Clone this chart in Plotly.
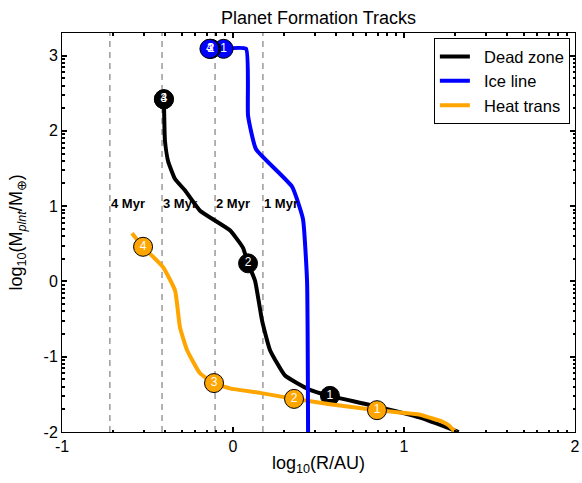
import numpy as np
import plotly.graph_objects as go

# ---- data (log10 R/AU, log10 M) ----
dead_x = [-0.404, -0.398, -0.380, -0.339, -0.281, -0.193, -0.018, 0.058, 0.088, 0.129, 0.170, 0.216, 0.304, 0.450, 0.567, 0.80, 1.094, 1.32]
dead_y = [2.42, 1.87, 1.60, 1.36, 1.21, 0.94, 0.68, 0.45, 0.24, 0.01, -0.52, -0.91, -1.25, -1.44, -1.52, -1.64, -1.81, -2.0]
dead_mx = [0.567, 0.088, -0.404, -0.404]
dead_my = [-1.52, 0.24, 2.42, 2.42]

ice_x = [-0.060, 0.076, 0.088, 0.134, 0.345, 0.409, 0.433, 0.439]
ice_y = [3.09, 3.09, 2.20, 1.76, 1.26, 0.83, 0.01, -2.0]
ice_mx = [-0.055, -0.128, -0.133, -0.138]
ice_my = [3.09, 3.09, 3.09, 3.09]

heat_x = [-0.591, -0.526, -0.409, -0.339, -0.310, -0.269, -0.193, -0.111, -0.018, 0.158, 0.357, 0.567, 0.842, 1.094, 1.152, 1.21, 1.26, 1.30]
heat_y = [0.64, 0.46, 0.19, -0.12, -0.61, -0.91, -1.22, -1.35, -1.42, -1.48, -1.56, -1.63, -1.71, -1.77, -1.81, -1.85, -1.91, -2.0]
heat_mx = [0.842, 0.357, -0.111, -0.526]
heat_my = [-1.71, -1.56, -1.35, 0.46]

marker_labels = ["1", "2", "3", "4"]

myr_x = [-0.72, -0.415, -0.105, 0.175]
myr_labels = ["4 Myr", "3 Myr", "2 Myr", "1 Myr"]
myr_label_y = 1.04

x_ticks = [-1, 0, 1, 2]
x_ticktext = ["-1", "0", "1", "2"]
y_ticks = [-2, -1, 0, 1, 2, 3]
y_ticktext = ["-2", "-1", "0", "1", "2", "3"]

FONT = "Liberation Sans, Arial, sans-serif"
ORANGE = "#FFA500"

fig = go.Figure()

def add_track(xs, ys, mx, my, color, name, rank, txtcolor="white"):
    fig.add_trace(go.Scatter(x=xs, y=ys, mode="lines", name="&nbsp;&nbsp;" + name, legendrank=rank,
                             line=dict(color=color, width=4, shape="spline", smoothing=0.4)))
    fig.add_trace(go.Scatter(x=mx, y=my, mode="markers+text", showlegend=False,
                             text=marker_labels, textposition="middle center",
                             textfont=dict(color=txtcolor, size=12, family=FONT),
                             marker=dict(size=19, color=color, line=dict(color="black", width=1))))

add_track(dead_x, dead_y, dead_mx, dead_my, "black", "Dead zone", 1)
add_track(heat_x, heat_y, heat_mx, heat_my, ORANGE, "Heat trans", 3)
add_track(ice_x, ice_y, ice_mx, ice_my, "#0000FF", "Ice line", 2)

for xv, lab in zip(myr_x, myr_labels):
    fig.add_shape(type="line", xref="x", yref="paper", x0=xv, x1=xv, y0=0, y1=1,
                  line=dict(color="#808080", width=1.2, dash="6px,5px"), layer="below")
    fig.add_annotation(x=xv, y=myr_label_y, xref="x", yref="y", text="<b>%s</b>" % lab,
                       showarrow=False, xanchor="left", yanchor="middle", xshift=-1,
                       font=dict(size=13, color="black", family=FONT))

# y-axis title as rotated annotation
fig.add_annotation(x=-0.0858, y=0.5, xref="paper", yref="paper",
                   text="log<sub>10</sub>(M<sub><i>plnt</i></sub>/M<sub>⊕</sub>)",
                   textangle=-90, showarrow=False, xanchor="center", yanchor="middle",
                   font=dict(size=18, family=FONT, color="black"))

minor_x = [k + np.log10(m) for k in range(-1, 2) for m in range(2, 10)]
minor_y = [k + np.log10(m) for k in range(-2, 3) for m in range(2, 10)]

axis_common = dict(showgrid=False, zeroline=False, showline=True, linecolor="black", linewidth=1,
                   mirror="ticks", ticks="inside", ticklen=5, tickwidth=2, tickcolor="black",
                   automargin=False,
                   tickfont=dict(size=16, family=FONT, color="black"))

fig.update_layout(
    width=582, height=483,
    margin=dict(l=62, r=7, t=33, b=51, autoexpand=False),
    paper_bgcolor="white", plot_bgcolor="white",
    title=dict(text="Planet Formation Tracks", xref="paper", x=0.5, xanchor="center",
               yref="container", y=0.963, yanchor="middle", automargin=False,
               font=dict(size=18, family=FONT, color="black")),
    xaxis=dict(range=[-1, 2], tickvals=x_ticks, ticktext=x_ticktext,
               title=dict(text="log<sub>10</sub>(R/AU)", font=dict(size=18, family=FONT, color="black"), standoff=2),
               minor=dict(tickvals=minor_x, ticks="inside", ticklen=2.5, tickwidth=2, tickcolor="black"),
               **axis_common),
    yaxis=dict(range=[-2, 3.3], tickvals=y_ticks, ticktext=y_ticktext,
               minor=dict(tickvals=minor_y, ticks="inside", ticklen=2.5, tickwidth=2, tickcolor="black"),
               **axis_common),
    legend=dict(x=0.99, y=0.987, xanchor="right", yanchor="top", bgcolor="white",
                bordercolor="black", borderwidth=1, font=dict(size=16.5, family=FONT, color="black"),
                tracegroupgap=0, itemwidth=30),
    showlegend=True,
)

fig.write_html("out.html", config={"displayModeBar": False},
               post_script="document.body.style.margin='0';")
